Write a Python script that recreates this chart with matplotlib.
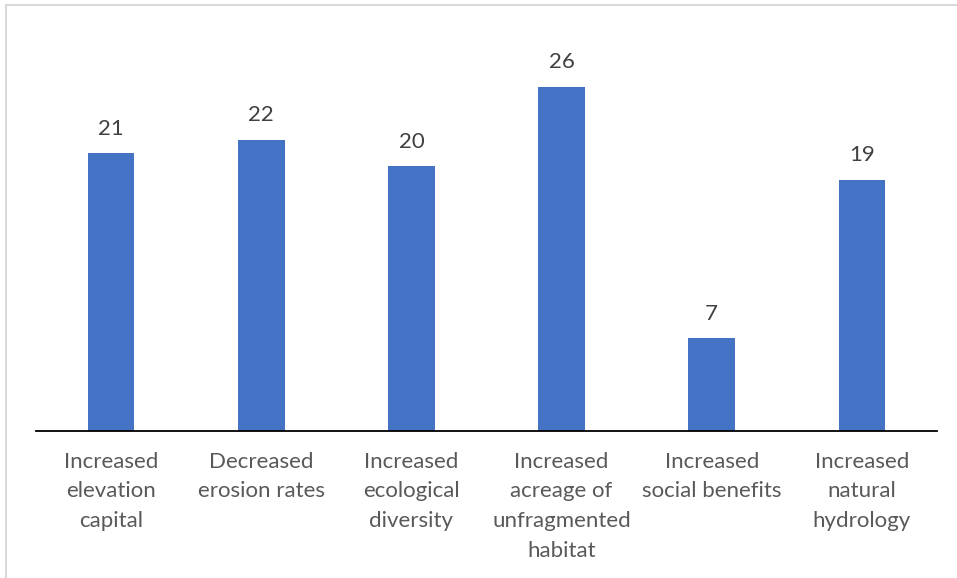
import matplotlib
matplotlib.use("Agg")
import matplotlib.pyplot as plt
from matplotlib.lines import Line2D

categories = ["Increased\nelevation\ncapital", "Decreased\nerosion rates", "Increased\necological\ndiversity",
              "Increased\nacreage of\nunfragmented\nhabitat", "Increased\nsocial benefits", "Increased\nnatural\nhydrology"]
values = [21, 22, 20, 26, 7, 19]

plt.rcParams['font.family'] = ['Lato', 'DejaVu Sans']

W, H = 957, 578
fig = plt.figure(figsize=(W/100, H/100), dpi=100)
fig.lines.append(Line2D([6/W, 6/W], [0, 1-5/H], transform=fig.transFigure, color='#D9D9D9', linewidth=1.5))
fig.lines.append(Line2D([6/W, 1], [1-5/H, 1-5/H], transform=fig.transFigure, color='#D9D9D9', linewidth=1.5))
ax = fig.add_axes([36/W, 1-431/H, (937-36)/W, (431-34)/H])
x = range(len(values))
bars = ax.bar(x, values, width=0.31, color='#4472C4')
ax.set_ylim(0, 30)
ax.set_xlim(-0.5, len(values)-0.5)
for s in ['top', 'right', 'left']:
    ax.spines[s].set_visible(False)
ax.spines['bottom'].set_color('#000000')
ax.spines['bottom'].set_linewidth(1.3)
ax.set_yticks([])
ax.set_xticks(list(x))
ax.set_xticklabels(categories, fontsize=16, color='#595959', linespacing=1.6, va='top')
ax.tick_params(axis='x', length=0, pad=15)
for i, v in zip(x, values):
    ax.annotate(str(v), (i, v), xytext=(0, 10.5), textcoords='offset points', ha='center', va='bottom',
                fontsize=16, color='#404040')
fig.savefig('out.png', dpi=100)
